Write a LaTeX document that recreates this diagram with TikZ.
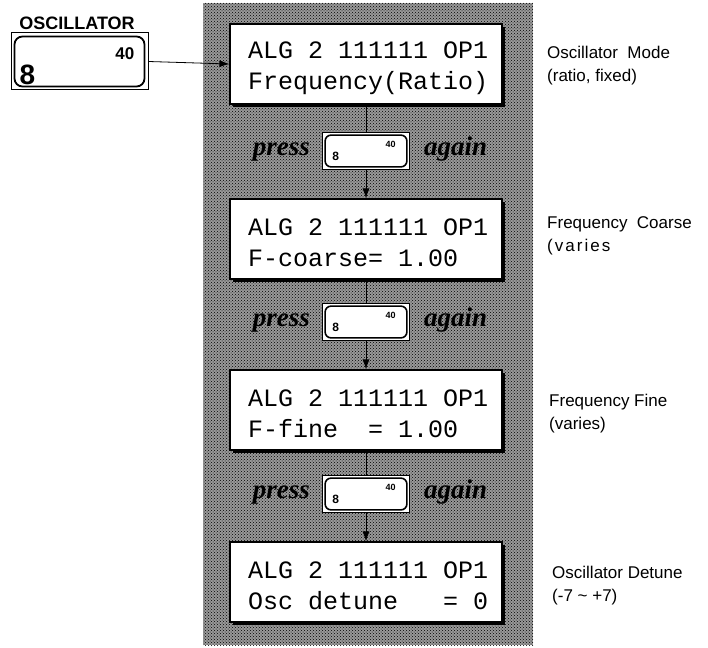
\documentclass[tikz,border=0pt]{standalone}
\usepackage{fontspec}
\setmainfont{Liberation Serif}
\setsansfont{Liberation Sans}
\newfontfamily\lcdfont{Liberation Mono}
\newcommand\lsp{\phantom{0}}
\usetikzlibrary{arrows.meta,calc,patterns,positioning,shadows}
\tikzset{
  lcd/.style={draw,line width=1.2pt,fill=white,minimum width=272pt,minimum height=80pt,inner sep=0pt,
    drop shadow={fill=black,opacity=1,shadow xshift=3pt,shadow yshift=-3pt}},
  lcdtext/.style={text width=240pt,align=left,inner sep=0pt,
    font=\lcdfont\fontsize{25}{31}\selectfont},
  presskey/.style={draw,line width=.8pt,fill=white,minimum width=87pt,minimum height=37pt,inner sep=0pt},
  osckey/.style={draw,line width=1pt,fill=white,minimum width=137pt,minimum height=57pt,inner sep=0pt},
  keyinner/.style={line width=1.6pt,rounded corners=6pt},
  keydigit/.style={font=\sffamily\bfseries\fontsize{12}{12}\selectfont,inner sep=0pt},
  keysmall/.style={font=\sffamily\bfseries\fontsize{9}{9}\selectfont,inner sep=0pt},
  pressword/.style={font=\bfseries\itshape\fontsize{27}{27}\selectfont,inner sep=0pt,text height=14pt,text depth=6pt},
  note/.style={anchor=west,align=left,inner sep=0pt,font=\sffamily\fontsize{17}{23}\selectfont},
  link/.style={line width=.8pt}
}
\begin{document}
\begin{tikzpicture}[x=1pt,y=-1pt]
\useasboundingbox (0,0) rectangle (708,647);
% dotted panel behind the displays
\fill[black!40] (203,3) rectangle (533,645);
\fill[pattern=crosshatch dots] (203,3) rectangle (533,645);

% oscillator key
\node[font=\sffamily\bfseries\fontsize{18}{18}\selectfont,inner sep=0pt] (oscname) at (77,23) {OSCILLATOR};
\node[osckey] (osc) at (79.5,61.5) {};
\draw[keyinner,line width=1.8pt,rounded corners=8pt] ($(osc.north west)+(4,4)$) rectangle ($(osc.south east)+(-4,-4)$);
\node[font=\sffamily\bfseries\fontsize{28}{28}\selectfont,inner sep=0pt,anchor=south west] (osc8) at ($(osc.south west)+(9,-6)$) {8};
\node[font=\sffamily\bfseries\fontsize{17}{17}\selectfont,inner sep=0pt,anchor=north east] (osc40) at ($(osc.north east)+(-14,15)$) {40};

% displays
\foreach \n/\y/\txt in {1/64/{ALG\lsp2\lsp111111\lsp OP1\\Frequency(Ratio)},
    2/239/{ALG\lsp2\lsp111111\lsp OP1\\F-coarse=\lsp1.00},
    3/410/{ALG\lsp2\lsp111111\lsp OP1\\F-fine\lsp\lsp=\lsp1.00},
    4/582/{ALG\lsp2\lsp111111\lsp OP1\\Osc\lsp detune\lsp\lsp\lsp=\lsp0}}{
  \node[lcd] (lcd\n) at (366,\y) {};
  \node[lcdtext] (txt\n) at ($(lcd\n.center)+(2,4)$) {\txt};
}
\draw[link,-{Latex[length=10pt,width=7pt]}] (osc.east) -- (lcd1.west);

% press keys
\foreach \k/\y in {1/151,2/322,3/494}{
  \node[presskey] (key\k) at (366,\y) {};
  \draw[keyinner] ($(key\k.north west)+(3,3)$) rectangle ($(key\k.south east)+(-3,-3)$);
  \node[keydigit,anchor=south west] (eight\k) at ($(key\k.south west)+(10,-9)$) {8};
  \node[keysmall,anchor=north east] (forty\k) at ($(key\k.north east)+(-14,9)$) {40};
  \node[pressword,left=12pt of key\k] (press\k) {press};
  \node[pressword,right=14pt of key\k] (again\k) {again};
}
\foreach \k/\m in {1/2,2/3,3/4}{
  \draw[link] (lcd\k.south) -- (key\k.north);
  \draw[link,-{Latex[length=10pt,width=7pt]}] (key\k.south) -- (lcd\m.north);
}

% notes
\node[note] (note1) at (547,66) {Oscillator~~Mode\\(ratio, fixed)};
\node[note] (note2) at (547,236) {Frequency~~Coarse\\{\addfontfeature{LetterSpace=12}(varies}};
\node[note] (note3) at (549,414) {Frequency~Fine\\(varies)};
\node[note] (note4) at (552,586) {Oscillator Detune\\(-7 \textasciitilde{} +7)};
\end{tikzpicture}
\end{document}
